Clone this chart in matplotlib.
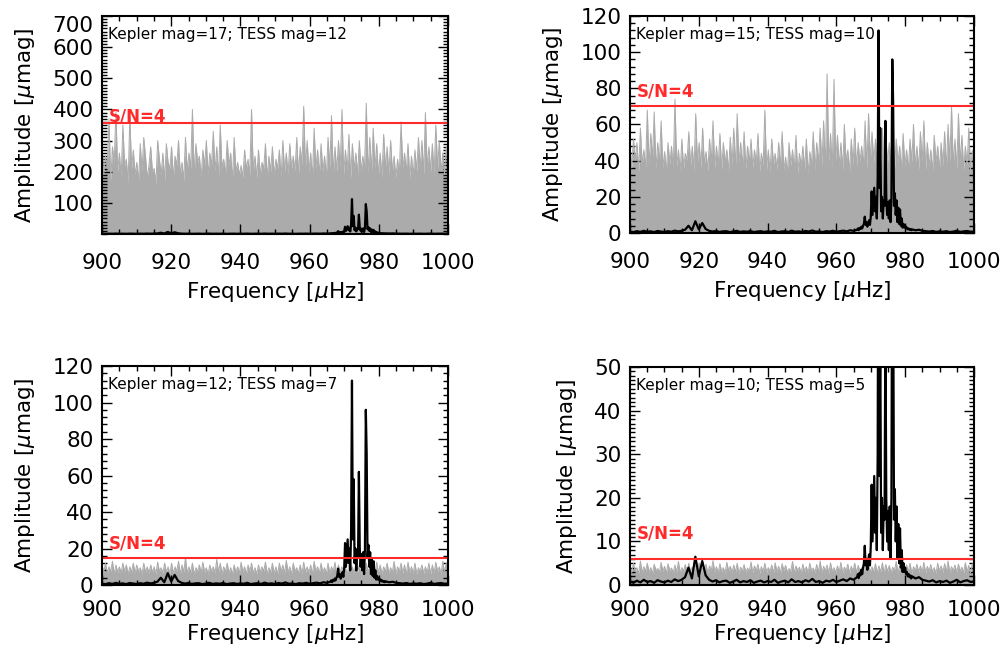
import matplotlib.pyplot as plt
import numpy as np
from matplotlib.ticker import MultipleLocator

# TESS amplitude spectra (grey), 0.5 muHz steps from 900 to 1000 muHz
tess_k17 = [290, 190, 250, 210, 370, 170, 280, 230, 390, 200,
            260, 180, 350, 220, 240, 160, 380, 210, 270, 190,
            230, 170, 290, 200, 310, 250, 180, 220, 280, 200,
            210, 160, 300, 240, 190, 260, 170, 290, 230, 210,
            280, 180, 250, 220, 300, 190, 230, 170, 310, 200,
            260, 210, 400, 190, 290, 230, 250, 180, 270, 220,
            300, 190, 260, 220, 330, 200, 280, 180, 350, 210,
            240, 190, 300, 220, 260, 170, 310, 200, 230, 190,
            220, 180, 270, 210, 240, 190, 400, 200, 250, 180,
            270, 190, 230, 210, 290, 180, 250, 200, 280, 190,
            240, 210, 270, 180, 300, 200, 260, 190, 290, 210,
            250, 200, 310, 190, 280, 220, 410, 210, 300, 200,
            260, 180, 340, 210, 270, 190, 290, 200, 250, 180,
            310, 210, 380, 190, 280, 200, 300, 210, 400, 190,
            270, 200, 320, 180, 290, 210, 260, 190, 300, 200,
            250, 210, 420, 190, 310, 200, 340, 210, 290, 190,
            260, 180, 320, 210, 280, 190, 300, 200, 250, 180,
            240, 190, 360, 210, 260, 200, 290, 180, 250, 190,
            270, 200, 310, 210, 300, 190, 390, 210, 280, 200,
            290, 190, 350, 210, 300, 200, 260, 190, 280, 200]

tess_k15 = [48, 36, 52, 40, 50, 34, 58, 38, 46, 36,
            68, 37, 55, 41, 67, 35, 50, 39, 62, 36,
            45, 34, 50, 38, 48, 35, 74, 37, 46, 34,
            52, 36, 44, 40, 56, 37, 48, 34, 66, 39,
            50, 36, 58, 38, 45, 34, 52, 39, 62, 36,
            48, 37, 55, 35, 50, 39, 46, 34, 53, 37,
            58, 36, 66, 39, 50, 37, 56, 35, 48, 39,
            52, 36, 46, 38, 55, 34, 44, 37, 68, 35,
            46, 33, 52, 38, 44, 35, 50, 37, 56, 35,
            42, 33, 50, 37, 46, 35, 54, 33, 44, 37,
            48, 35, 52, 33, 45, 38, 56, 35, 50, 39,
            58, 37, 62, 35, 88, 39, 55, 35, 85, 40,
            54, 37, 50, 35, 60, 39, 46, 34, 52, 37,
            58, 36, 50, 39, 48, 37, 62, 35, 66, 40,
            56, 39, 52, 35, 60, 37, 58, 35, 54, 39,
            50, 37, 56, 35, 52, 39, 48, 35, 55, 37,
            46, 35, 52, 39, 60, 37, 48, 35, 56, 39,
            62, 35, 50, 37, 46, 34, 54, 39, 48, 35,
            50, 37, 56, 35, 60, 39, 70, 37, 52, 35,
            66, 39, 54, 35, 48, 37, 58, 35, 46, 37]

tess_k12 = [11, 7, 12, 6.5, 10, 7.5, 13, 6, 11, 7,
            10, 6.5, 12, 7.5, 11, 6, 10, 7, 12, 6.5,
            11, 7.5, 9.5, 6, 12, 7, 10, 6.5, 11, 7,
            10, 6, 12.5, 7.5, 9.5, 6.5, 12, 7, 10, 6,
            12, 6.5, 10, 7.5, 13, 6, 11, 7, 15, 6.5,
            10, 7, 12, 6, 9.5, 7.5, 11, 6.5, 12.5, 7,
            9.5, 6, 11, 7.5, 10, 6.5, 14, 7, 12, 6,
            10, 7.5, 12, 6.5, 9.5, 6, 11, 7, 10, 6.5,
            12.5, 7, 10, 6, 11, 7.5, 12, 6.5, 9.5, 6,
            11, 7, 10, 7.5, 12.5, 6, 9.5, 7, 12, 6.5,
            10, 6, 12, 7.5, 11, 6.5, 13.5, 7, 10, 6,
            12, 7.5, 9.5, 6.5, 11, 6, 12.5, 7, 10, 6.5,
            11, 6, 13, 7.5, 10, 6.5, 12, 7, 9.5, 6,
            12, 6.5, 10, 7.5, 12.5, 6, 11, 7, 10, 6.5,
            9.5, 6, 11, 7.5, 10, 6.5, 12, 7, 11, 6,
            10, 6.5, 12, 7.5, 9.5, 6, 11, 7, 12.5, 6.5,
            11, 6, 10, 7.5, 12, 6.5, 9.5, 7, 13, 6,
            10, 7.5, 12, 6.5, 11, 6, 12.5, 7, 10, 6.5,
            12, 6, 9.5, 7.5, 11, 6.5, 10, 7, 12, 6,
            11, 6.5, 12.5, 7.5, 10, 6, 13, 7, 12, 6.5]

tess_k10 = [4.5, 2.8, 5, 3.1, 4, 2.6, 5.5, 2.9, 4.2, 3.2,
            5, 3.0, 4, 2.7, 4.8, 3.3, 3.8, 2.9, 5.2, 3.1,
            4.3, 2.7, 4.9, 3.3, 3.9, 2.9, 4.6, 3.0, 5.4, 2.8,
            4, 3.2, 4.7, 2.8, 5, 3.1, 4.1, 2.9, 4.5, 3.3,
            5.1, 2.9, 3.9, 3.2, 4.8, 2.7, 4.4, 3.3, 5.6, 3.0,
            4.2, 2.8, 4.9, 3.1, 4, 2.7, 5.2, 3.3, 4.3, 2.9,
            4.6, 3.0, 5, 2.7, 4.1, 3.2, 4.7, 2.9, 3.9, 3.1,
            5.3, 2.8, 4.4, 3.3, 4.8, 2.7, 4.2, 3.1, 5, 2.9,
            4, 3.2, 4.6, 2.8, 5.1, 3.0, 4.3, 2.7, 4.9, 3.3,
            4.5, 2.9, 3.8, 3.1, 5.4, 2.8, 4.4, 3.3, 4.1, 2.7,
            4.8, 3.1, 4.2, 2.8, 5, 3.2, 3.9, 2.9, 4.7, 3.0,
            5.5, 2.8, 4.3, 3.3, 4.6, 2.7, 5.1, 3.1, 4, 2.9,
            4.4, 3.0, 5.2, 2.8, 4.1, 3.3, 4.8, 2.7, 4.3, 3.2,
            5, 2.9, 4.5, 3.1, 4, 2.8, 5.3, 3.3, 4.6, 3.0,
            4.2, 3.2, 4.9, 2.8, 4.4, 3.0, 5.1, 2.7, 4.7, 3.1,
            4.5, 2.8, 4.1, 3.3, 5.4, 2.9, 4.3, 3.2, 4.9, 2.8,
            4.6, 3.1, 5, 2.7, 4.2, 3.3, 4.8, 2.9, 4.4, 3.0,
            5.2, 2.8, 4.3, 3.2, 4.7, 3.0, 4, 2.7, 5, 3.3,
            4.4, 2.9, 4.9, 3.1, 5.5, 2.8, 4.2, 3.3, 4.6, 2.9,
            4.8, 3.2, 4.1, 2.8, 5.1, 3.1, 4.5, 2.7, 4.9, 3.0]

# Kepler amplitude spectrum (black): baseline 900-965, peaks 966-981.75, tail 982-1000
kepler_base = [0.8, 0.5, 1.0, 0.6, 1.2, 0.7, 0.9, 0.5, 1.1, 0.8,
               0.6, 1.0, 0.7, 1.3, 0.9, 1.2, 1.8, 4.0, 1.5, 6.5,
               2.0, 5.5, 2.2, 1.2, 0.8, 1.1, 0.6, 0.9, 1.0, 0.5,
               0.8, 1.2, 0.6, 0.9, 0.7, 1.1, 0.5, 0.8, 1.0, 0.6,
               0.9, 0.7, 1.2, 0.5, 0.8, 1.0, 0.6, 1.3, 0.7, 0.9,
               0.6, 1.1, 0.8, 1.4, 0.7, 0.9, 0.5, 1.0, 0.8, 1.2,
               0.7, 1.0, 1.3, 0.9, 1.5, 1.2]
kepler_peaks = [1.8, 2.5, 1.6, 2.8,
                2.2, 3.5, 2.5, 4.0,
                5.0, 9.0, 4.5, 6.0,
                3.5, 5.5, 7.0, 4.5,
                9.0, 23.0, 10.0, 18.0,
                25.0, 12.0, 20.0, 8.0,
                30.0, 112.0, 25.0, 58.0,
                12.0, 20.0, 8.0, 18.0,
                15.0, 62.0, 20.0, 10.0,
                17.0, 8.0, 18.0, 6.0,
                20.0, 96.0, 72.0, 15.0,
                22.0, 10.0, 18.0, 6.0,
                14.0, 5.0, 13.0, 4.0,
                8.0, 3.0, 5.0, 3.0,
                4.0, 2.5, 3.0, 2.0,
                2.5, 1.8, 2.2, 1.5]
kepler_tail = [2.0, 1.5, 1.8, 1.2, 1.0, 0.8, 1.1, 0.6, 0.9, 0.7,
               1.0, 0.5, 0.8, 1.2, 0.6, 0.9, 1.1, 0.7, 0.8]

labels = ['Kepler mag=17; TESS mag=12', 'Kepler mag=15; TESS mag=10',
          'Kepler mag=12; TESS mag=7', 'Kepler mag=10; TESS mag=5']
snr4 = [355, 70, 15, 5.9]
ymax = [700, 120, 120, 50]
ymajor = [100, 20, 20, 10]
yminor = [10, 4, 4, 1]
snr_text_y = [378, 78, 23, 11.9]

kepler_freq = np.concatenate([np.arange(900, 966, 1.0),
                              np.arange(966, 982, 0.25),
                              np.arange(982, 1001, 1.0)])
kepler_amp = np.array(kepler_base + kepler_peaks + kepler_tail)

rects = [[0.1016, 0.6417, 0.3446, 0.3338],
         [0.6275, 0.6432, 0.3426, 0.3323],
         [0.1016, 0.1041, 0.3446, 0.3354],
         [0.6275, 0.1041, 0.3426, 0.3338]]

grey = '#ababab'
red = '#ff2a2a'

fig = plt.figure(figsize=(10.04, 6.53), dpi=100)
for i, tess in enumerate([tess_k17, tess_k15, tess_k12, tess_k10]):
    ax = fig.add_axes(rects[i])
    f = np.linspace(900, 1000, len(tess))
    ax.fill_between(f, 0, tess, color=grey, lw=0)
    ax.plot(f, tess, color=grey, lw=0.7)
    ax.plot(kepler_freq, kepler_amp, color='black', lw=1.6)
    ax.axhline(snr4[i], color=red, lw=1.5)
    ax.text(902, snr_text_y[i], 'S/N=4', color=red, fontsize=12,
            fontweight='bold', va='center')
    ax.text(0.018, 0.915, labels[i], transform=ax.transAxes, fontsize=11,
            va='center', ha='left')
    ax.set_xlim(900, 1000)
    ax.set_ylim(0, ymax[i])
    ax.xaxis.set_major_locator(MultipleLocator(20))
    ax.xaxis.set_minor_locator(MultipleLocator(5))
    ax.yaxis.set_major_locator(MultipleLocator(ymajor[i]))
    ax.yaxis.set_minor_locator(MultipleLocator(yminor[i]))
    if i == 0:
        ax.set_yticks(np.arange(100, 701, 100))
    ax.tick_params(which='both', direction='in', top=True, right=True,
                   labelsize=15.5, width=1.0)
    ax.tick_params(which='major', length=7)
    bottom_row = i >= 2
    ax.tick_params(axis='x', which='major', pad=11 if bottom_row else 14)
    ax.tick_params(axis='y', which='major', pad=6)
    ax.tick_params(which='minor', length=3.5)
    for s in ax.spines.values():
        s.set_linewidth(1.5)
    ax.set_xlabel(r'Frequency [$\mu$Hz]', fontsize=15.5,
                  labelpad=1 if bottom_row else 5)
    ax.set_ylabel(r'Amplitude [$\mu$mag]', fontsize=15.5, labelpad=11)
    # extreme tick labels sit inside the axis range, as in the original
    fig.canvas.draw()
    ylabs = ax.get_yticklabels()
    if ax.get_yticks()[-1] == ymax[i]:
        ylabs[-1].set_va('top')
    if ax.get_yticks()[0] == 0:
        ylabs[0].set_va('bottom')

fig.savefig('out.png', dpi=100)
